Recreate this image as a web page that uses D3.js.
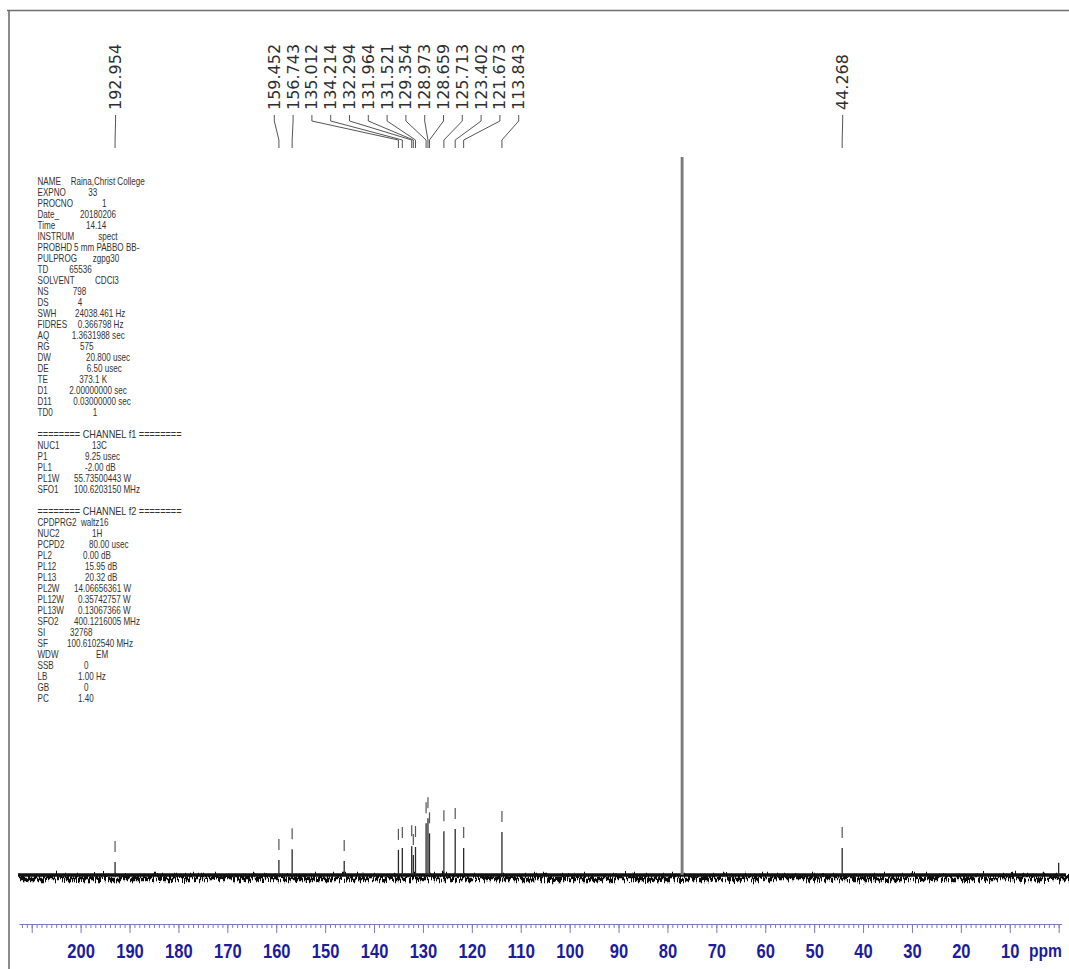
<!DOCTYPE html>
<html><head><meta charset="utf-8">
<script src="https://cdn.jsdelivr.net/npm/d3@7"></script>
<style>body{margin:0;background:#fff}svg{display:block}</style>
</head><body><svg id="c" width="1069" height="969"></svg>
<script>
// ---------------- DATA ----------------
const peakLabels = ["192.954","159.452","156.743","135.012","134.214","132.294","131.964","131.521","129.354","128.973","128.659","125.713","123.402","121.673","113.843","44.268"];
const peakPpm = [192.954,159.452,156.743,135.012,134.214,132.294,131.964,131.521,129.354,128.973,128.659,125.713,123.402,121.673,113.843,44.268];
const peakIntensity = [1.8,2.1,3.6,3.5,3.75,4.0,2.8,3.9,7.2,7.9,5.8,6.1,6.4,3.75,6.0,3.75];
const otherPpm = [146.1,77.16,77.0,76.84,0.0];
const otherIntensity = [1.95,100,100,100,1.7];
const majorTicks = [210,200,190,180,170,160,150,140,130,120,110,100,90,80,70,60,50,40,30,20,10,0];
const tickLabels = ["","200","190","180","170","160","150","140","130","120","110","100","90","80","70","60","50","40","30","20","10",""];
const axisUnit = "ppm";

const acqLabels = ["NAME","EXPNO","PROCNO","Date_","Time","INSTRUM","PROBHD","PULPROG","TD","SOLVENT","NS","DS","SWH","FIDRES","AQ","RG","DW","DE","TE","D1","D11","TD0"];
const acqValues = ["Raina,Christ College","33","1","20180206","14.14","spect","5 mm PABBO BB-","zgpg30","65536","CDCl3","798","4","24038.461 Hz","0.366798 Hz","1.3631988 sec","575","20.800 usec","6.50 usec","373.1 K","2.00000000 sec","0.03000000 sec","1"];
const f1Header = "======== CHANNEL f1 ========";
const f1Labels = ["NUC1","P1","PL1","PL1W","SFO1"];
const f1Values = ["13C","9.25 usec","-2.00 dB","55.73500443 W","100.6203150 MHz"];
const f2Header = "======== CHANNEL f2 ========";
const f2Labels = ["CPDPRG2","NUC2","PCPD2","PL2","PL12","PL13","PL2W","PL12W","PL13W","SFO2","SI","SF","WDW","SSB","LB","GB","PC"];
const f2Values = ["waltz16","1H","80.00 usec","0.00 dB","15.95 dB","20.32 dB","14.06656361 W","0.35742757 W","0.13067366 W","400.1216005 MHz","32768","100.6102540 MHz","EM","0","1.00 Hz","0","1.40"];

// ---------------- LAYOUT ----------------
const acqValueX = [70.7,88.3,102,80,86,98.3,74,92.7,69.3,95,72.7,77.7,75,77.7,71.7,80,86,86.7,79.3,69.3,73.3,92.7];
const f1ValueX = [92,85,85,74,74];
const f2ValueX = [81,92,89,83,85,85,74,78,78,74,70,67,96,84,78,84,78];

const svg = d3.select("#c");
const x = d3.scaleLinear().domain([212.6,-0.6]).range([19,1061.6]);
const y = d3.scaleLinear().domain([0,100]).range([875,157]);

// noise texture filter (visual style for the baseline band)
const defs = svg.append("defs");
const flt = defs.append("filter").attr("id","jag").attr("filterUnits","userSpaceOnUse")
  .attr("x",0).attr("y",850).attr("width",1069).attr("height",50);
flt.append("feTurbulence").attr("type","turbulence").attr("baseFrequency","0.9 0.03")
  .attr("numOctaves",2).attr("seed",7).attr("result","t");
flt.append("feDisplacementMap").attr("in","SourceGraphic").attr("in2","t")
  .attr("scale",13).attr("xChannelSelector","A").attr("yChannelSelector","R");

// frame
svg.append("path").attr("d","M7,10.5H1069M9,10V969")
  .attr("stroke","#6f6f6f").attr("stroke-width",1.6).attr("fill","none");

// ---------------- AXIS ----------------
const axisCol = "#7a7ac6";
const gMinor = svg.append("g").attr("transform","translate(0,924)")
  .call(d3.axisBottom(x).tickValues(d3.range(212,-1,-1)).tickSize(4).tickSizeOuter(0).tickFormat(""));
gMinor.select(".domain").attr("stroke",axisCol);
gMinor.selectAll(".tick line").attr("stroke",axisCol);
const gMajor = svg.append("g").attr("transform","translate(0,924)")
  .call(d3.axisBottom(x).tickValues(majorTicks).tickSize(9).tickSizeOuter(0)
    .tickFormat((d,i)=>tickLabels[i]));
gMajor.select(".domain").remove();
gMajor.selectAll(".tick line").attr("stroke",axisCol);
gMajor.selectAll(".tick text")
  .attr("y",34).attr("dy",null)
  .attr("fill","#1c1c9e")
  .style("font-family","'Liberation Sans', Arial, sans-serif")
  .style("font-weight","bold").style("font-size","20px")
  .attr("textLength",function(){return this.textContent.length*9.2;})
  .attr("lengthAdjust","spacingAndGlyphs");
svg.append("text").attr("x",1029).attr("y",957).text(axisUnit)
  .attr("fill","#1c1c9e")
  .style("font-family","'Liberation Sans', Arial, sans-serif")
  .style("font-weight","bold").style("font-size","19px")
  .attr("textLength",33).attr("lengthAdjust","spacingAndGlyphs");

// ---------------- SPECTRUM ----------------
const base = d3.line().x(d=>x(d)).y(()=>y(0));
svg.append("path").attr("d",base([212.8,-1.5])).attr("stroke","#111")
  .attr("stroke-width",4.5).attr("fill","none").attr("filter","url(#jag)");
svg.append("path").attr("d",base([212.8,-1.5])).attr("stroke","#111")
  .attr("stroke-width",3.5).attr("fill","none");

const peaks = peakPpm.map((p,i)=>({ppm:p,h:peakIntensity[i],label:peakLabels[i],idx:i}));
const others = otherPpm.map((p,i)=>({ppm:p,h:otherIntensity[i]}));

svg.append("g").selectAll("line").data(others).join("line")
  .attr("x1",d=>x(d.ppm)).attr("x2",d=>x(d.ppm))
  .attr("y1",y(0)).attr("y2",d=>y(d.h))
  .attr("stroke",d=>d.h>50?"#777":"#2a2a2a").attr("stroke-width",1.3);
svg.append("g").selectAll("line").data(peaks).join("line")
  .attr("x1",d=>x(d.ppm)).attr("x2",d=>x(d.ppm))
  .attr("y1",y(0)).attr("y2",d=>y(d.h))
  .attr("stroke","#2a2a2a").attr("stroke-width",1.3);

// peak-pick markers
const marked = peaks.concat(others.filter(d=>d.h<50 && d.ppm>1));
svg.append("g").selectAll("line").data(marked).join("line")
  .attr("x1",d=>x(d.ppm)).attr("x2",d=>x(d.ppm))
  .attr("y1",d=>y(d.h)-21).attr("y2",d=>y(d.h)-10)
  .attr("stroke","#555").attr("stroke-width",1.2);

// ---------------- PEAK LABELS ----------------
const clusterStart = 274.3, clusterStep = 18.8;
peaks.forEach(d=>{
  const px = x(d.ppm);
  if (d.idx===0 || d.idx===peaks.length-1) d.lx = px + 0.5;
  else d.lx = clusterStart + (d.idx-1)*clusterStep;
});
svg.append("g").selectAll("path").data(peaks).join("path")
  .attr("d",d=>`M${d.lx},115V121L${x(d.ppm)},140V148`)
  .attr("stroke","#555").attr("stroke-width",1).attr("fill","none");
svg.append("g").selectAll("text").data(peaks).join("text")
  .attr("transform",d=>`translate(${d.lx},110) rotate(-90)`)
  .attr("dominant-baseline","central")
  .style("font-family","'DejaVu Sans', Verdana, sans-serif").style("font-size","16px")
  .attr("fill","#2e2e2e").text(d=>d.label);

// ---------------- PARAMETER TEXT ----------------
const sx = 0.77, x0 = 37.5;
const pg = svg.append("g").attr("transform",`translate(${x0},0) scale(${sx},1)`)
  .style("font-family","'Liberation Sans', Arial, sans-serif").style("font-size","10.5px")
  .attr("fill","#333");
const rows = [];
acqLabels.forEach((l,i)=>rows.push({r:i,l:l,v:acqValues[i],vx:acqValueX[i],hdr:false}));
rows.push({r:23,l:f1Header,v:"",vx:0,hdr:true});
f1Labels.forEach((l,i)=>rows.push({r:24+i,l:l,v:f1Values[i],vx:f1ValueX[i],hdr:false}));
rows.push({r:30,l:f2Header,v:"",vx:0,hdr:true});
f2Labels.forEach((l,i)=>rows.push({r:31+i,l:l,v:f2Values[i],vx:f2ValueX[i],hdr:false}));
const rowY = r => 185 + 11*r;
pg.selectAll("text.l").data(rows).join("text").attr("class","l")
  .attr("x",0).attr("y",d=>rowY(d.r)).text(d=>d.l)
  .attr("textLength",d=>d.hdr?144/sx:null)
  .attr("lengthAdjust",d=>d.hdr?"spacingAndGlyphs":null);
pg.selectAll("text.v").data(rows.filter(d=>d.v)).join("text").attr("class","v")
  .attr("x",d=>(d.vx-x0)/sx).attr("y",d=>rowY(d.r)).text(d=>d.v);
</script></body></html>
